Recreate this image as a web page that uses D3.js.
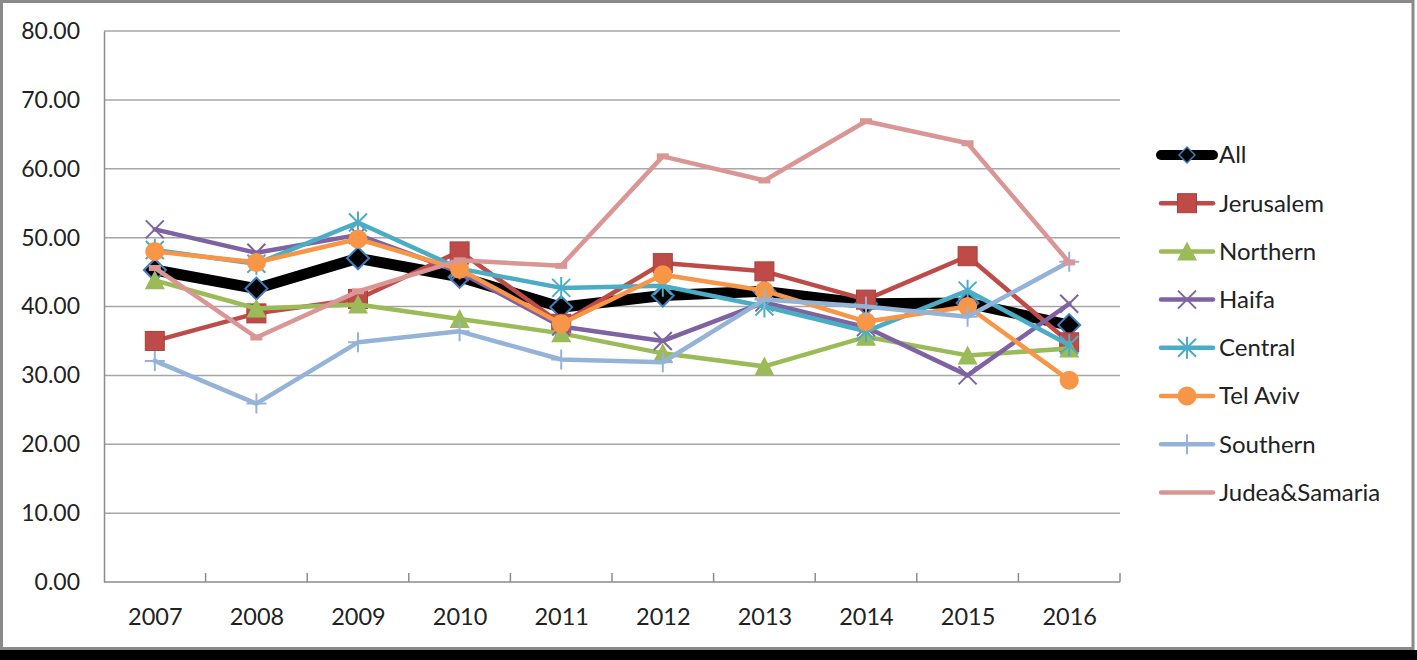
<!DOCTYPE html>
<html><head><meta charset="utf-8">
<script src="https://cdn.jsdelivr.net/npm/d3@7"></script>
<style>html,body{margin:0;padding:0;background:#fff;}svg{display:block;}</style>
</head><body>
<svg id="c" width="1417" height="660"></svg>
<script>
const years = [2007, 2008, 2009, 2010, 2011, 2012, 2013, 2014, 2015, 2016];
const yTicks = [0, 10, 20, 30, 40, 50, 60, 70, 80];
const seriesNames = ["All", "Jerusalem", "Northern", "Haifa", "Central", "Tel Aviv", "Southern", "Judea&Samaria"];
const allValues = [45.3, 42.6, 47.0, 44.3, 39.9, 41.6, 42.2, 40.4, 40.5, 37.3];
const jerusalem = [35.0, 39.0, 41.1, 48.0, 37.5, 46.3, 45.1, 41.0, 47.3, 34.8];
const northern = [43.8, 39.7, 40.3, 38.2, 36.1, 33.2, 31.3, 35.6, 32.9, 33.9];
const haifa = [51.2, 47.8, 50.4, 45.0, 37.1, 35.0, 40.6, 37.0, 30.0, 40.4];
const central = [48.2, 46.2, 52.2, 45.5, 42.7, 43.0, 40.0, 36.4, 42.3, 34.4];
const telAviv = [48.0, 46.4, 49.8, 45.4, 37.5, 44.6, 42.3, 37.8, 40.0, 29.3];
const southern = [32.1, 25.9, 34.8, 36.4, 32.3, 31.9, 41.0, 40.0, 38.5, 46.5];
const judea = [45.6, 35.5, 42.2, 46.7, 45.9, 61.8, 58.3, 66.9, 63.7, 46.4];

const seriesValues = [allValues, jerusalem, northern, haifa, central, telAviv, southern, judea];
const colors = ["#000000", "#BE4B48", "#9BBB59", "#7E62A1", "#4BACC6", "#F79646", "#95B3D7", "#D99694"];
const markers = ["diamond", "square", "triangle", "x", "star", "circle", "plus", "dash"];

const svg = d3.select("#c");
const font = "Lato, 'Open Sans', sans-serif";

// frame
svg.append("rect").attr("x", 0).attr("y", 650).attr("width", 1417).attr("height", 10).attr("fill", "#000");
svg.append("rect").attr("x", 1.5).attr("y", 1.5).attr("width", 1411.5).attr("height", 647).attr("fill", "none")
  .attr("stroke", "#8a8a8a").attr("stroke-width", 3);

const x = d3.scalePoint().domain(years).range([104, 1120]).padding(0.5);
const y = d3.scaleLinear().domain([0, 80]).range([582, 31]);

// gridlines
svg.append("g").selectAll("line").data(yTicks.filter(d => d > 0)).join("line")
  .attr("x1", 104).attr("x2", 1120).attr("y1", d => y(d)).attr("y2", d => y(d))
  .attr("stroke", "#a6a6a6").attr("stroke-width", 1.5);

// y axis
const yAxis = d3.axisLeft(y).tickValues(yTicks).tickFormat(d3.format(".2f")).tickSize(0).tickPadding(24);
const gy = svg.append("g").attr("transform", "translate(104,0)").call(yAxis);
gy.select(".domain").attr("stroke", "#8c8c8c").attr("stroke-width", 1.5);
gy.selectAll("text").attr("font-family", font).attr("font-size", 23).attr("fill", "#222");

// x axis
const xAxis = d3.axisBottom(x).tickSize(0).tickPadding(26);
const gx = svg.append("g").attr("transform", "translate(0,582)").call(xAxis);
gx.select(".domain").attr("d", "M104,0H1120").attr("stroke", "#8c8c8c").attr("stroke-width", 1.5);
gx.selectAll("text").attr("font-family", font).attr("font-size", 23.5).attr("fill", "#222");
const step = x.step();
const bounds = d3.range(years.length + 1).map(i => 104 + i * step);
svg.append("g").selectAll("line").data(bounds.slice(1)).join("line")
  .attr("x1", d => d).attr("x2", d => d).attr("y1", 582).attr("y2", 573)
  .attr("stroke", "#8c8c8c").attr("stroke-width", 1.5);

function drawMarker(g, type, color, cx, cy) {
  switch (type) {
    case "diamond":
      g.append("path").attr("d", `M${cx},${cy-11}L${cx+11},${cy}L${cx},${cy+11}L${cx-11},${cy}Z`)
        .attr("fill", "#000").attr("stroke", "#3f7fbf").attr("stroke-width", 2); break;
    case "square":
      g.append("rect").attr("x", cx-9.5).attr("y", cy-9.5).attr("width", 19).attr("height", 19)
        .attr("fill", color).attr("stroke", "#a8403d").attr("stroke-width", 1); break;
    case "triangle":
      g.append("path").attr("d", `M${cx},${cy-10}L${cx+10},${cy+9}L${cx-10},${cy+9}Z`).attr("fill", color); break;
    case "x":
      g.append("path").attr("d", `M${cx-9},${cy-9}L${cx+9},${cy+9}M${cx+9},${cy-9}L${cx-9},${cy+9}`)
        .attr("stroke", color).attr("stroke-width", 2); break;
    case "star":
      g.append("path").attr("d", `M${cx-9},${cy-9}L${cx+9},${cy+9}M${cx+9},${cy-9}L${cx-9},${cy+9}M${cx},${cy-11}L${cx},${cy+11}`)
        .attr("stroke", color).attr("stroke-width", 2); break;
    case "circle":
      g.append("circle").attr("cx", cx).attr("cy", cy).attr("r", 9.5).attr("fill", color); break;
    case "plus":
      g.append("path").attr("d", `M${cx-10},${cy}L${cx+10},${cy}M${cx},${cy-10}L${cx},${cy+10}`)
        .attr("stroke", color).attr("stroke-width", 2); break;
    case "dash":
      g.append("rect").attr("x", cx-6).attr("y", cy-3).attr("width", 12).attr("height", 6).attr("fill", color); break;
  }
}

const line = d3.line().x((d, i) => x(years[i])).y(d => y(d));
seriesValues.forEach((vals, si) => {
  const g = svg.append("g");
  g.append("path").attr("d", line(vals)).attr("fill", "none").attr("stroke", colors[si])
    .attr("stroke-width", si === 0 ? 11 : 4.5).attr("stroke-linejoin", "round").attr("stroke-linecap", "round");
  vals.forEach((v, i) => drawMarker(g, markers[si], colors[si], x(years[i]), y(v)));
});

// legend
const lg = svg.append("g");
seriesNames.forEach((name, si) => {
  const ly = 155 + si * 48.2;
  const g = lg.append("g");
  g.append("line").attr("x1", 1161).attr("x2", 1213).attr("y1", ly).attr("y2", ly)
    .attr("stroke", colors[si]).attr("stroke-width", si === 0 ? 10 : 4.5).attr("stroke-linecap", "round");
  if (markers[si] !== "dash") drawMarker(g, markers[si], colors[si], 1187, ly);
  if (si === 0) {
    g.select("path").attr("d", `M1187,${ly-8}L1195,${ly}L1187,${ly+8}L1179,${ly}Z`).attr("stroke-width", 1.5);
  }
  g.append("text").attr("x", 1219).attr("y", ly).attr("dy", "0.35em").text(name)
    .attr("font-family", font).attr("font-size", 24).attr("fill", "#222");
});
</script>
</body></html>
